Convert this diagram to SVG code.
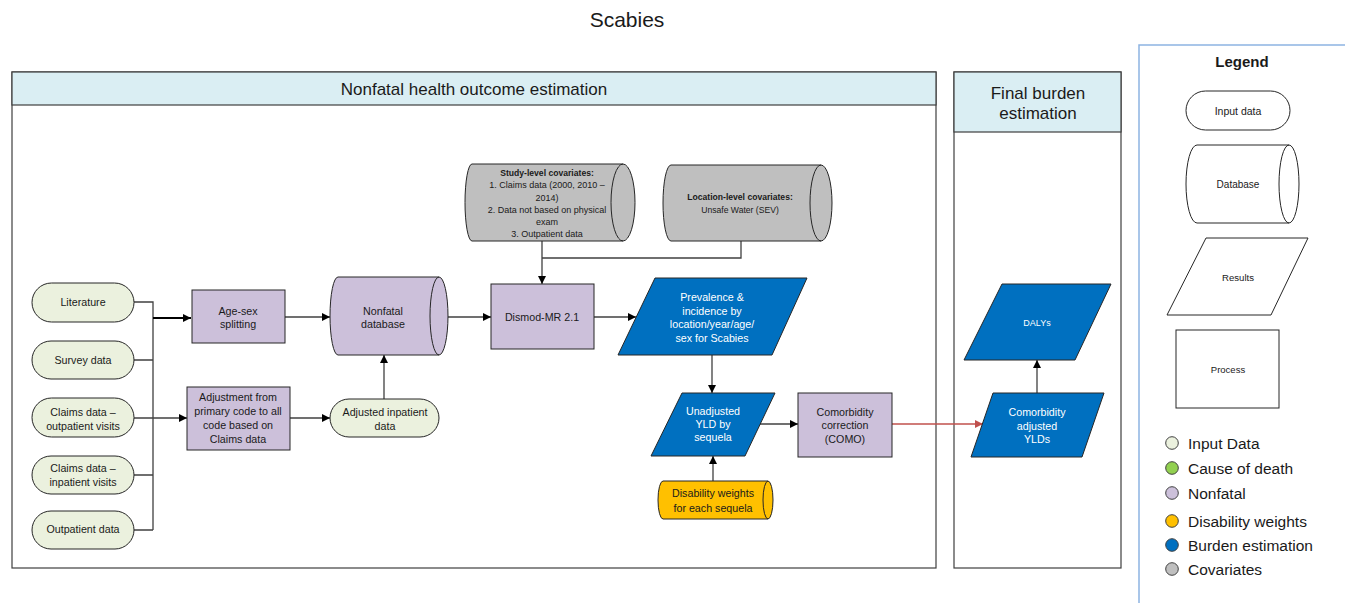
<svg xmlns="http://www.w3.org/2000/svg" width="1345" height="603" viewBox="0 0 1345 603">
<defs>
<style>
.t{font-family:"Liberation Sans",Arial,sans-serif;fill:#1a1a1a;text-anchor:middle}
.n{font-size:10.7px}
.w{fill:#ffffff}
.b{font-weight:bold}
.panel{fill:#ffffff;stroke:#3f3f3f;stroke-width:1.2}
.hdr{fill:#DAEEF3;stroke:#3f3f3f;stroke-width:1.2}
.inp{fill:#EBF1DE;stroke:#262626;stroke-width:1}
.nf{fill:#CCC0DA;stroke:#262626;stroke-width:1}
.bur{fill:#0070C0;stroke:#262626;stroke-width:1}
.cov{fill:#BFBFBF;stroke:#262626;stroke-width:1}
.dw{fill:#FFC000;stroke:#262626;stroke-width:1}
.lg{fill:#ffffff;stroke:#262626;stroke-width:1}
.c{fill:none;stroke:#404040;stroke-width:1.3}
.lt{font-size:15.5px;text-anchor:start}
</style>
<marker id="arr" viewBox="0 0 10 10" refX="10" refY="5" markerWidth="9" markerHeight="8" markerUnits="userSpaceOnUse" orient="auto">
<path d="M0,0 L10,5 L0,10 z" fill="#000000"/>
</marker>
<marker id="arrR" viewBox="0 0 10 10" refX="10" refY="5" markerWidth="9" markerHeight="8" markerUnits="userSpaceOnUse" orient="auto">
<path d="M0,0 L10,5 L0,10 z" fill="#C0504D"/>
</marker>
</defs>
<rect width="1345" height="603" fill="#ffffff"/>
<text class="t" x="627" y="27" style="font-size:21px">Scabies</text>

<g id="panel-nonfatal">
<rect class="panel" x="12" y="72" width="924" height="496"/>
<rect class="hdr" x="12" y="72" width="924" height="33"/>
<text class="t" x="474" y="95" style="font-size:17px">Nonfatal health outcome estimation</text>
</g>
<g id="panel-final">
<rect class="panel" x="954" y="72" width="167" height="496"/>
<rect class="hdr" x="954" y="72" width="167" height="60"/>
<text class="t" x="1038" y="99" style="font-size:17px">Final burden</text>
<text class="t" x="1038" y="119" style="font-size:17px">estimation</text>
</g>

<g id="connectors">
<path class="c" d="M134,302 H153 V530 M134,360 H153 M134,475 H153 M134,530 H153"/>
<path class="c" d="M153,318 H191" style="stroke:#000;stroke-width:2" marker-end="url(#arr)"/>
<path class="c" d="M134,418 H187" marker-end="url(#arr)"/>
<path class="c" d="M285,317 H330" marker-end="url(#arr)"/>
<path class="c" d="M290,418 H330" marker-end="url(#arr)"/>
<path class="c" d="M384,399 V355" marker-end="url(#arr)"/>
<path class="c" d="M448,317 H491" marker-end="url(#arr)"/>
<path class="c" d="M741,241 V258 H542"/>
<path class="c" d="M542,241 V284" marker-end="url(#arr)"/>
<path class="c" d="M594,317 H636" marker-end="url(#arr)"/>
<path class="c" d="M712,355 V393" marker-end="url(#arr)"/>
<path class="c" d="M760,424 H798" marker-end="url(#arr)"/>
<path class="c" d="M713,481 V456" marker-end="url(#arr)"/>
<path class="c" d="M892,424 H983" style="stroke:#C0504D" marker-end="url(#arrR)"/>
<path class="c" d="M1037,393 V360" marker-end="url(#arr)"/>
</g>

<g id="literature">
<rect class="inp" x="32" y="283" width="102" height="39" rx="19.5"/>
<text class="t n" x="83" y="306">Literature</text>
</g>
<g id="survey">
<rect class="inp" x="32" y="341" width="102" height="38" rx="19"/>
<text class="t n" x="83" y="364">Survey data</text>
</g>
<g id="claims-outpatient">
<rect class="inp" x="32" y="398" width="102" height="39" rx="19.5"/>
<text class="t n" x="83" y="415.5">Claims data –</text>
<text class="t n" x="83" y="429.5">outpatient visits</text>
</g>
<g id="claims-inpatient">
<rect class="inp" x="32" y="456" width="102" height="38" rx="19"/>
<text class="t n" x="83" y="472">Claims data –</text>
<text class="t n" x="83" y="486">inpatient visits</text>
</g>
<g id="outpatient-data">
<rect class="inp" x="32" y="511" width="102" height="38" rx="19"/>
<text class="t n" x="83" y="533">Outpatient data</text>
</g>

<g id="age-sex">
<rect class="nf" x="192" y="290" width="93" height="53"/>
<text class="t n" x="238" y="314.5">Age-sex</text>
<text class="t n" x="238" y="327.5">splitting</text>
</g>
<g id="adjustment">
<rect class="nf" x="187" y="387" width="103" height="63"/>
<text class="t n" x="238" y="401">Adjustment from</text>
<text class="t n" x="238" y="415">primary code to all</text>
<text class="t n" x="238" y="429">code based on</text>
<text class="t n" x="238" y="443">Claims data</text>
</g>
<g id="nonfatal-db">
<path class="nf" d="M338,277 H439 A9,39 0 0 1 439,355 H338 A8,39 0 0 1 338,277 Z"/>
<path class="nf" d="M439,277 A9,39 0 0 0 439,355" style="fill:none"/>
<text class="t n" x="383" y="314.5">Nonfatal</text>
<text class="t n" x="383" y="327.5">database</text>
</g>
<g id="adjusted-inpatient">
<rect class="inp" x="330" y="399" width="109" height="38" rx="19"/>
<text class="t n" x="385" y="415.5">Adjusted inpatient</text>
<text class="t n" x="385" y="429.5">data</text>
</g>

<g id="study-covariates">
<path class="cov" d="M472,164 H623 A12,38.5 0 0 1 623,241 H472 A7,38.5 0 0 1 472,164 Z"/>
<path class="cov" d="M623,164 A12,38.5 0 0 0 623,241" style="fill:none"/>
<text class="t b" x="547" y="176" style="font-size:8.6px">Study-level covariates:</text>
<text class="t" x="547" y="188" style="font-size:9px">1. Claims data (2000, 2010 –</text>
<text class="t" x="547" y="200.5" style="font-size:9px">2014)</text>
<text class="t" x="547" y="213" style="font-size:9px">2. Data not based on physical</text>
<text class="t" x="547" y="224.5" style="font-size:9px">exam</text>
<text class="t" x="547" y="236.5" style="font-size:9px">3. Outpatient data</text>
</g>
<g id="location-covariates">
<path class="cov" d="M671,165 H821 A11,38 0 0 1 821,241 H671 A8,38 0 0 1 671,165 Z"/>
<path class="cov" d="M821,165 A11,38 0 0 0 821,241" style="fill:none"/>
<text class="t b" x="740" y="200" style="font-size:8.6px">Location-level covariates:</text>
<text class="t" x="740" y="213" style="font-size:8.6px">Unsafe Water (SEV)</text>
</g>

<g id="dismod">
<rect class="nf" x="491" y="284" width="103" height="65"/>
<text class="t n" x="542" y="321">Dismod-MR 2.1</text>
</g>
<g id="prevalence">
<polygon class="bur" points="655,278 807,278 772,355 618,355"/>
<text class="t n w" x="712" y="300.5">Prevalence &amp;</text>
<text class="t n w" x="712" y="314.5">incidence by</text>
<text class="t n w" x="712" y="328">location/year/age/</text>
<text class="t n w" x="712" y="342">sex for Scabies</text>
</g>
<g id="unadjusted-yld">
<polygon class="bur" points="682,393 775,393 745,456 651,456"/>
<text class="t n w" x="713" y="414.5">Unadjusted</text>
<text class="t n w" x="713" y="427.5">YLD by</text>
<text class="t n w" x="713" y="441">sequela</text>
</g>
<g id="como">
<rect class="nf" x="798" y="393" width="94" height="64"/>
<text class="t n" x="845" y="415.5">Comorbidity</text>
<text class="t n" x="845" y="429">correction</text>
<text class="t n" x="845" y="443">(COMO)</text>
</g>
<g id="disability-weights">
<path class="dw" d="M663,481 H768 A5,19 0 0 1 768,519 H663 A5,19 0 0 1 663,481 Z"/>
<path class="dw" d="M768,481 A5,19 0 0 0 768,519" style="fill:none"/>
<text class="t n" x="713" y="497">Disability weights</text>
<text class="t n" x="713" y="511.5">for each sequela</text>
</g>
<g id="comorbidity-adjusted">
<polygon class="bur" points="993,393 1104,393 1082,457 971,457"/>
<text class="t n w" x="1037" y="415.5">Comorbidity</text>
<text class="t n w" x="1037" y="429.5">adjusted</text>
<text class="t n w" x="1037" y="443">YLDs</text>
</g>
<g id="dalys">
<polygon class="bur" points="1002,284 1111,284 1075,360 964,360"/>
<text class="t w" x="1037" y="326" style="font-size:9px">DALYs</text>
</g>

<g id="legend">
<path d="M1139,603 V45 H1345" fill="none" stroke="#8DB4E2" stroke-width="1.5"/>
<text class="t b" x="1242" y="67" style="font-size:15px">Legend</text>
<rect class="lg" x="1186" y="91" width="104" height="39" rx="19.5"/>
<text class="t" x="1238" y="114.5" style="font-size:10.5px">Input data</text>
<path class="lg" d="M1197,145 H1289 A10,39 0 0 1 1289,223 H1197 A11,39 0 0 1 1197,145 Z"/>
<path class="lg" d="M1289,145 A10,39 0 0 0 1289,223" style="fill:none"/>
<text class="t" x="1238" y="187.5" style="font-size:10px">Database</text>
<polygon class="lg" points="1206,238 1308,238 1271,315 1167,315"/>
<text class="t" x="1238" y="280.5" style="font-size:9.6px">Results</text>
<rect class="lg" x="1176" y="330" width="103" height="78"/>
<text class="t" x="1228" y="372.5" style="font-size:9.5px">Process</text>
<circle cx="1172" cy="443" r="6.3" fill="#EBF1DE" stroke="#404040"/>
<circle cx="1172" cy="468" r="6.3" fill="#92D050" stroke="#404040"/>
<circle cx="1172" cy="493" r="6.3" fill="#CCC0DA" stroke="#404040"/>
<circle cx="1172" cy="521" r="6.3" fill="#FFC000" stroke="#404040"/>
<circle cx="1172" cy="545" r="6.3" fill="#0070C0" stroke="#404040"/>
<circle cx="1172" cy="569" r="6.3" fill="#BFBFBF" stroke="#404040"/>
<text class="t lt" x="1188" y="448.5">Input Data</text>
<text class="t lt" x="1188" y="473.5">Cause of death</text>
<text class="t lt" x="1188" y="498.5">Nonfatal</text>
<text class="t lt" x="1188" y="526.5">Disability weights</text>
<text class="t lt" x="1188" y="550.5">Burden estimation</text>
<text class="t lt" x="1188" y="574.5">Covariates</text>
</g>
</svg>
